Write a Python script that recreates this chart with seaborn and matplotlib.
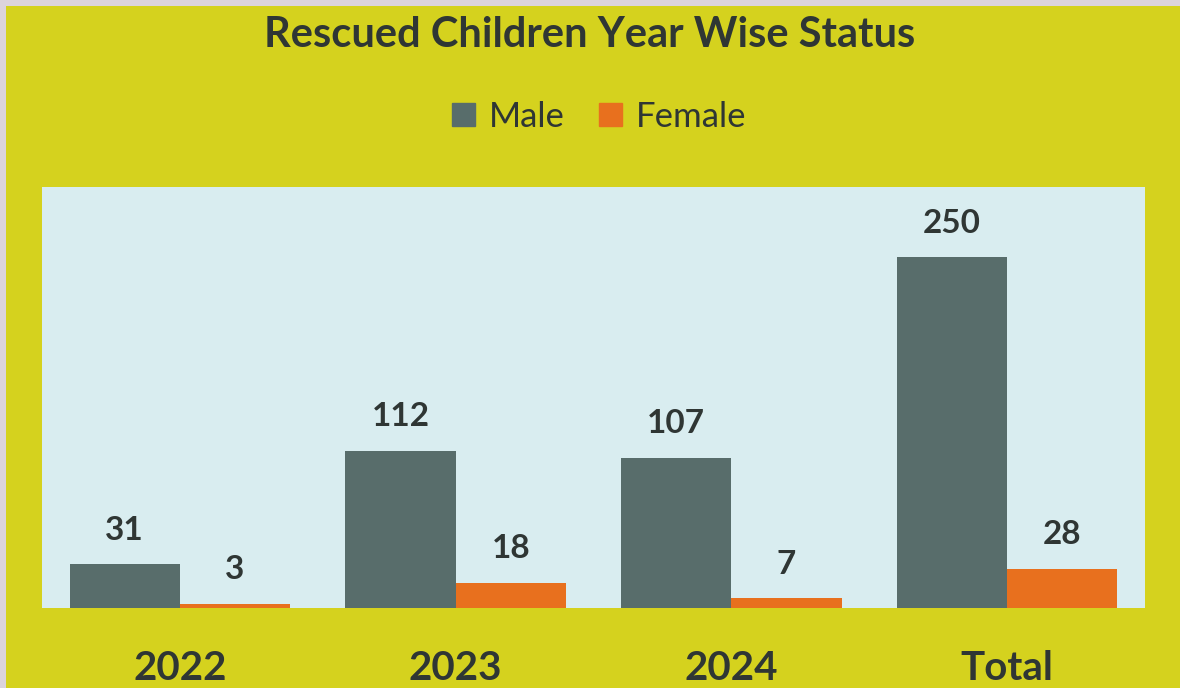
import matplotlib
matplotlib.use("Agg")
import matplotlib.pyplot as plt
import seaborn as sns
import pandas as pd
from matplotlib.patches import Rectangle

# Daten
categories = ["2022", "2023", "2024", "Total"]
male = [31, 112, 107, 250]
female = [3, 18, 7, 28]
series = ["Male", "Female"]

df = pd.DataFrame({
    "year": categories * 2,
    "count": male + female,
    "gender": ["Male"] * len(categories) + ["Female"] * len(categories),
})

sns.set_theme(style="white")
plt.rcParams["font.family"] = ["Lato", "DejaVu Sans"]

text_color = "#2f3634"
colors = {"Male": "#586d6b", "Female": "#e8701e"}

fig = plt.figure(figsize=(11.8, 6.88), dpi=100)
fig.patch.set_facecolor("#dcd4dc")
# gelber Hintergrund mit schmalem grauen Rand links/oben
fig.patches.append(Rectangle((6 / 1180, 0), 1 - 6 / 1180, 1 - 6 / 688,
                             transform=fig.transFigure, facecolor="#d5d21e",
                             edgecolor="none", zorder=-10))

ax = fig.add_axes([42 / 1180, 80 / 688, 1103 / 1180, 421 / 688])
ax.set_facecolor("#d9edf0")

sns.barplot(data=df, x="year", y="count", hue="gender", hue_order=series,
            palette=colors, width=0.8, saturation=1, ax=ax, legend=False,
            linewidth=0, edgecolor="none")

# Werte über den Balken
for cont in ax.containers:
    ax.bar_label(cont, padding=14, fontsize=24, fontweight="bold",
                 color=text_color)

ax.set_ylim(0, 300)
ax.set_xlim(-0.5, 3.5)
ax.set_xlabel("")
ax.set_ylabel("")
ax.set_yticks([])
ax.tick_params(axis="x", length=0, pad=30, labelsize=29, labelcolor=text_color)
for lbl in ax.get_xticklabels():
    lbl.set_fontweight("bold")
for s in ax.spines.values():
    s.set_visible(False)

fig.text(0.5, 1 - 35 / 688, "Rescued Children Year Wise Status", ha="center",
         va="center", fontsize=30, fontweight="bold", color=text_color)

handles = [Rectangle((0, 0), 1, 1, color=colors[s]) for s in series]
fig.legend(handles, series, loc="center", bbox_to_anchor=(0.508, 1 - 117 / 688),
           ncol=2, frameon=False, fontsize=25, handlelength=0.65,
           handleheight=0.65, handletextpad=0.4, columnspacing=1.0,
           labelcolor=text_color)

fig.savefig("out.png", dpi=100, facecolor=fig.get_facecolor())
